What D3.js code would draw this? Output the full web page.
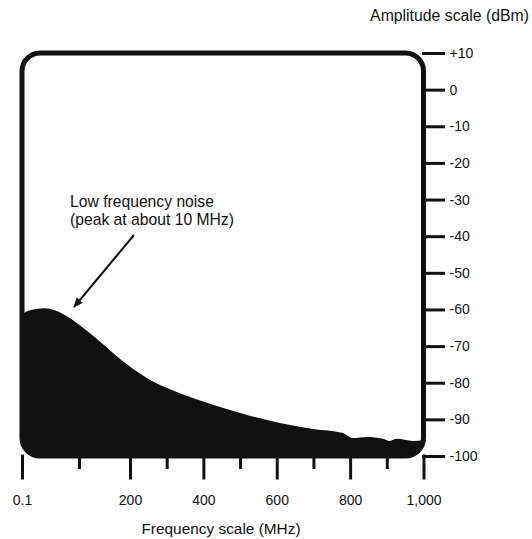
<!DOCTYPE html>
<html>
<head>
<meta charset="utf-8">
<script src="https://cdn.jsdelivr.net/npm/d3@7"></script>
<style>
  html, body { margin: 0; padding: 0; background: #fff; }
  svg { display: block; font-family: "Liberation Sans", Arial, Helvetica, sans-serif; }
</style>
</head>
<body>
<svg id="chart" width="532" height="539"></svg>
<script>
// ---- data ----
const frequencies = [0.1, 10, 40, 75, 106, 137, 171, 205, 249, 295, 336, 377, 426, 519, 609, 699, 780, 808, 846, 889, 908, 927, 971, 1000];
const levels      = [-61.5, -60.4, -59.7, -61.5, -64.8, -68.3, -72.4, -76.0, -78.9, -81.2, -82.9, -84.4, -86.0, -88.8, -91.0, -92.6, -93.7, -95.1, -94.8, -95.3, -95.9, -95.3, -95.9, -95.6];
const xMajorTicks = [0.1, 200, 400, 600, 800, 1000];
const xMinorTicks = [100, 300, 500, 700, 900];
const yTicks = [10, 0, -10, -20, -30, -40, -50, -60, -70, -80, -90, -100];
const xTitle = "Frequency scale (MHz)";
const yTitle = "Amplitude scale (dBm)";
const noteLines = ["Low frequency noise", "(peak at about 10 MHz)"];

const svg = d3.select("#chart");
const ink = "#111";

// scales (the reference's frequency axis is piecewise)
const x = d3.scaleLinear().domain([0.1, 100, 200, 1000]).range([22, 79, 130, 423.5]);
const y = d3.scaleLinear().domain([-100, 10]).range([456, 53]);

const x0 = x(0.1), x1 = x(1000), yTop = y(10), yBot = y(-100);

// clip for the filled noise area
svg.append("defs").append("clipPath").attr("id", "boxclip")
  .append("rect")
  .attr("x", x0).attr("y", yTop)
  .attr("width", x1 - x0).attr("height", yBot - yTop)
  .attr("rx", 18).attr("ry", 18);

const data = frequencies.map((f, i) => ({ f, v: levels[i] }));
const area = d3.area()
  .x(d => x(d.f))
  .y0(yBot + 5)
  .y1(d => y(d.v))
  .curve(d3.curveMonotoneX);

svg.append("path")
  .datum(data)
  .attr("clip-path", "url(#boxclip)")
  .attr("d", area)
  .attr("fill", ink);

// frame
svg.append("rect")
  .attr("x", x0).attr("y", yTop)
  .attr("width", x1 - x0).attr("height", yBot - yTop)
  .attr("rx", 18).attr("ry", 18)
  .attr("fill", "none").attr("stroke", ink).attr("stroke-width", 5);

// right amplitude axis
const yAxis = d3.axisRight(y)
  .tickValues(yTicks)
  .tickSize(20)
  .tickPadding(6)
  .tickFormat(v => v > 0 ? "+" + v : String(v));
const gy = svg.append("g").attr("transform", `translate(${x1},0)`).call(yAxis);
gy.select(".domain").remove();
gy.selectAll(".tick line").attr("stroke", ink).attr("stroke-width", 3).attr("stroke-linecap", "square");
gy.selectAll(".tick text").attr("fill", ink).attr("font-size", 14);

// bottom frequency axis (major + minor)
const xAxis = d3.axisBottom(x)
  .tickValues(xMajorTicks)
  .tickSize(22)
  .tickPadding(17)
  .tickFormat(v => v === 0.1 ? "0.1" : d3.format(",")(v));
const gx = svg.append("g").attr("transform", `translate(0,${yBot})`).call(xAxis);
gx.select(".domain").remove();
gx.selectAll(".tick line").attr("stroke", ink).attr("stroke-width", 3).attr("stroke-linecap", "square");
gx.selectAll(".tick text").attr("fill", ink).attr("font-size", 14);

const xAxisMinor = d3.axisBottom(x).tickValues(xMinorTicks).tickSize(13).tickFormat("");
const gxm = svg.append("g").attr("transform", `translate(0,${yBot})`).call(xAxisMinor);
gxm.select(".domain").remove();
gxm.selectAll(".tick line").attr("stroke", ink).attr("stroke-width", 3);

// titles
svg.append("text").attr("x", 529).attr("y", 21).attr("text-anchor", "end")
  .attr("font-size", 15.8).attr("fill", ink).text(yTitle);
svg.append("text").attr("x", 221).attr("y", 534).attr("text-anchor", "middle")
  .attr("font-size", 15.4).attr("fill", ink).text(xTitle);

// annotation
const note = svg.append("text").attr("x", 70).attr("y", 207).attr("font-size", 15.7).attr("fill", ink);
noteLines.forEach((t, i) => note.append("tspan").attr("x", 70).attr("dy", i === 0 ? 0 : 18).text(t));

svg.select("defs").append("marker")
  .attr("id", "arrow").attr("viewBox", "0 0 10 10")
  .attr("refX", 9).attr("refY", 5)
  .attr("markerWidth", 5).attr("markerHeight", 5)
  .attr("markerUnits", "strokeWidth")
  .attr("orient", "auto")
  .append("path").attr("d", "M0,1 L10,5 L0,9 Z").attr("fill", ink);

svg.append("line")
  .attr("x1", 134).attr("y1", 235)
  .attr("x2", 74).attr("y2", 307)
  .attr("stroke", ink).attr("stroke-width", 2)
  .attr("marker-end", "url(#arrow)");
</script>
</body>
</html>
